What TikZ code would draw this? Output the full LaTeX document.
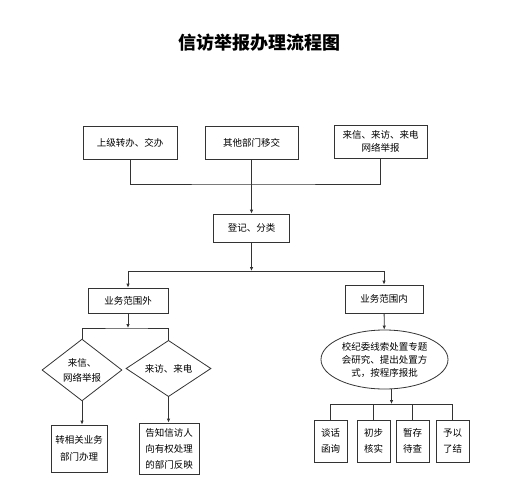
\documentclass[tikz,border=0pt]{standalone}
\usepackage{fontspec}
\setmainfont{Noto Sans CJK SC}
\usetikzlibrary{shapes.geometric,arrows.meta}

\begin{document}
\begin{tikzpicture}[x=1pt,y=-1pt,line width=0.8pt,
		box/.style={draw=black!80,align=center,inner sep=0pt,font=\fontsize{9.5}{13}\selectfont},
		choice/.style={diamond,draw=black!80,align=center,inner sep=0pt,font=\fontsize{9.5}{15}\selectfont},
		arr/.style={-{Latex[length=4pt,width=3.5pt]}}]
			\useasboundingbox (0,0) rectangle (532,500);
			\node (title) at (259.5,43) {\fontsize{18}{20}\selectfont\bfseries 信访举报办理流程图};
			\node [box,minimum width=94,minimum height=33] (shangji) at (130,142.5) {上级转办、交办};
			\node [box,minimum width=93,minimum height=33] (qita) at (251.5,142.5) {其他部门移交};
			\node [box,minimum width=93,minimum height=33] (laixin) at (380.5,141.5) {来信、来访、来电\\网络举报};
			\node [box,minimum width=76,minimum height=28] (dengji) at (251.5,228) {登记、分类};
			\node [box,minimum width=80,minimum height=25] (fanwei) at (128,300.5) {业务范围外};
			\node [box,minimum width=78,minimum height=28] (fanwein) at (384,299) {业务范围内};
			\node [choice,minimum width=80,minimum height=48] (wangluo) at (82,370) {来信、\\网络举报};
			\node [choice,minimum width=85,minimum height=49] (laifang) at (168.5,368.5) {来访、来电};
			\node [box,minimum width=56,minimum height=47,font=\fontsize{9.5}{17}\selectfont] (zhuan) at (79,448.5) {转相关业务\\部门办理};
			\node [box,minimum width=60,minimum height=51,font=\fontsize{9.5}{16}\selectfont] (gaozhi) at (169,448.5) {告知信访人\\向有权处理\\的部门反映};
			\node [ellipse,draw=black!80,align=center,inner sep=0pt,minimum width=127,minimum height=59,font=\fontsize{9.5}{13}\selectfont] (chuzhi) at (384.5,359.5) {校纪委线索处置专题\\会研究、提出处置方\\式，按程序报批};
			\node [box,minimum width=33,minimum height=42,font=\fontsize{9.5}{16}\selectfont] (tanhua) at (330.5,441) {谈话\\函询};
			\node [box,minimum width=33,minimum height=42,font=\fontsize{9.5}{16}\selectfont] (chubu) at (373.5,441) {初步\\核实};
			\node [box,minimum width=33,minimum height=42,font=\fontsize{9.5}{16}\selectfont] (zancun) at (412.5,441) {暂存\\待查};
			\node [box,minimum width=33,minimum height=42,font=\fontsize{9.5}{16}\selectfont] (yuyi) at (452.5,441) {予以\\了结};
			\coordinate (jtop) at (251.5,184);
			\coordinate (jmid) at (251.5,271);
			\coordinate (jout) at (128,328);
			\coordinate (jin) at (391.5,404);
			\draw [black!80] (shangji) |- (jtop) -| (laixin);
			\draw [black!80,arr] (qita) -- (dengji);
			\draw [black!80,arr] (dengji) -- (jmid);
			\draw [black!80,arr] (jmid) -| (fanwei);
			\draw [black!80,arr] (jmid) -| (fanwein);
			\draw [black!80,arr] (fanwei) -- (jout);
			\draw [black!80] (wangluo) |- (jout) -| (laifang);
			\draw [black!80,arr] (wangluo.south) -- (wangluo.south |- zhuan.north);
			\draw [black!80,arr] (laifang.south) -- (laifang.south |- gaozhi.north);
			\draw [black!80,arr] (fanwein) -- (chuzhi);
			\draw [black!80,arr] (chuzhi.south -| jin) -- (jin);
			\foreach \b in {tanhua,chubu,zancun,yuyi}
				\draw [black!80] (\b) |- (jin);
		\end{tikzpicture}
\end{document}
